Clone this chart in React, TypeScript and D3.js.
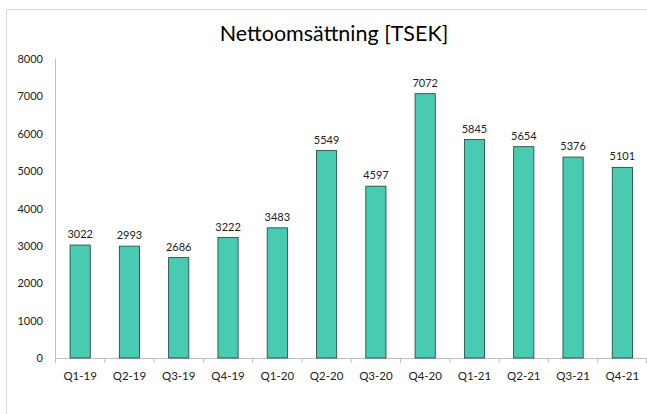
import React from "react";
import * as d3 from "d3";

const categories = ["Q1-19","Q2-19","Q3-19","Q4-19","Q1-20","Q2-20","Q3-20","Q4-20","Q1-21","Q2-21","Q3-21","Q4-21"];
const values = [3022,2993,2686,3222,3483,5549,4597,7072,5845,5654,5376,5101];
const yTicks = [0,1000,2000,3000,4000,5000,6000,7000,8000];
const title = "Nettoomsättning [TSEK]";

const W = 647, H = 414;
const left = 55.5, right = 647, top = 59, bottom = 358;

export default function App() {
  const x = d3.scaleBand<string>().domain(categories).range([left, right]).paddingInner(0.59).paddingOuter(0.295);
  const band = d3.scaleBand<string>().domain(categories).range([left, right]);
  const y = d3.scaleLinear().domain([0, 8000]).range([bottom, top]);
  const font = "Lato, 'Open Sans', sans-serif";
  return (
    <svg width={W} height={H} style={{ position: "absolute", left: 0, top: 0, background: "#fff" }} fontFamily={font}>
      <rect x={6.5} y={9.5} width={700} height={420} fill="none" stroke="#d9d9d9" />
      <text x={334} y={41} textAnchor="middle" fontSize={21.5} fill="#000">{title}</text>
      <line x1={left} x2={left} y1={top} y2={bottom} stroke="#bfbfbf" />
      {yTicks.map(t => (
        <text key={t} x={43} y={y(t) + 4} textAnchor="end" fontSize={11} fill="#222">{t}</text>
      ))}
      <line x1={left} x2={right} y1={bottom + 0.5} y2={bottom + 0.5} stroke="#bfbfbf" />
      {categories.map(c => (
        <line key={c} x1={band(c)!} x2={band(c)!} y1={bottom} y2={bottom + 5} stroke="#bfbfbf" />
      ))}
      <line x1={right - 0.5} x2={right - 0.5} y1={bottom} y2={bottom + 5} stroke="#bfbfbf" />
      {categories.map((c, i) => (
        <g key={c}>
          <rect x={x(c)!} y={y(values[i])} width={x.bandwidth()} height={bottom - y(values[i])} fill="#48CBB1" stroke="#1c3d38" strokeWidth={0.8} />
          <text x={x(c)! + x.bandwidth() / 2} y={y(values[i]) - 7} textAnchor="middle" fontSize={11} fill="#222">{values[i]}</text>
          <text x={band(c)! + band.bandwidth() / 2} y={bottom + 22} textAnchor="middle" fontSize={11.5} fill="#222">{c}</text>
        </g>
      ))}
    </svg>
  );
}
